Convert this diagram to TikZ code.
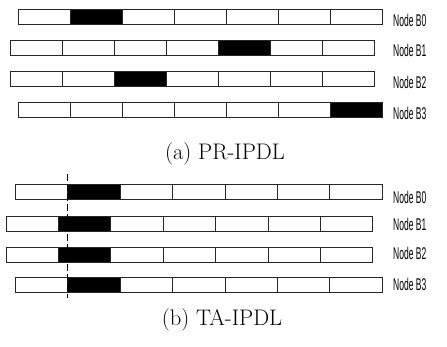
\documentclass[tikz,border=0pt]{standalone}
\usepackage{fontspec}
\newfontfamily\labelfont{Liberation Sans}
\begin{document}
\begin{tikzpicture}[x=1pt,y=-1pt,
  cell/.style={draw=black!85, line width=0.6pt, fill=white, rectangle,
    inner sep=0pt, minimum width=52.4pt, minimum height=14.6pt, anchor=north west},
  busy/.style={cell, fill=black},
  nodelabel/.style={anchor=west, inner sep=0pt,
    font=\labelfont\fontsize{17}{17}\selectfont},
  caption/.style={font=\fontsize{22.5}{24}\selectfont, inner sep=0pt},
  timeline/.style={draw=black, line width=0.6pt, dash pattern=on 7pt off 3pt}]
\useasboundingbox (0,0) rectangle (447,347);

% (a) PR-IPDL: each row is {name/x start/y top/busy slot}
\foreach \r/\xs/\yt/\b in {a0/18/9/1, a1/9.5/40/4, a2/9.5/71/2, a3/18/102/6}{
  \foreach \i in {0,...,6}{
    \ifnum\i=\b
      \node[busy] (\r c\i) at (\xs+\i*52,\yt) {};
    \else
      \node[cell] (\r c\i) at (\xs+\i*52,\yt) {};
    \fi
  }
}
\node[nodelabel] (la0) at (393,20) {\scalebox{0.5}[1]{Node B0}};
\node[nodelabel] (la1) at (393,50) {\scalebox{0.5}[1]{Node B1}};
\node[nodelabel] (la2) at (393,82) {\scalebox{0.5}[1]{Node B2}};
\node[nodelabel] (la3) at (393,113) {\scalebox{0.5}[1]{Node B3}};
\node[caption] (capa) at (225,154) {(a) PR-IPDL};

% (b) TA-IPDL: every row has its busy slot aligned on one time line
\foreach \r/\xs/\yt in {b0/15/184, b1/5.5/216, b2/5.5/247.5, b3/15/277}{
  \foreach \i in {0,...,6}{
    \ifnum\i=1
      \node[busy] (\r c\i) at (\xs+\i*52.4,\yt) {};
    \else
      \node[cell] (\r c\i) at (\xs+\i*52.4,\yt) {};
    \fi
  }
}
\node[nodelabel] (lb0) at (393,197) {\scalebox{0.5}[1]{Node B0}};
\node[nodelabel] (lb1) at (393,224) {\scalebox{0.5}[1]{Node B1}};
\node[nodelabel] (lb2) at (393,253) {\scalebox{0.5}[1]{Node B2}};
\node[nodelabel] (lb3) at (393,284) {\scalebox{0.5}[1]{Node B3}};
\node[caption] (capb) at (222,320) {(b) TA-IPDL};

% time line through the start of the busy slots
\coordinate (ttop) at (67,174);
\coordinate (tbot) at (67,298);
\draw[timeline] (ttop) -- (tbot);
\end{tikzpicture}
\end{document}
